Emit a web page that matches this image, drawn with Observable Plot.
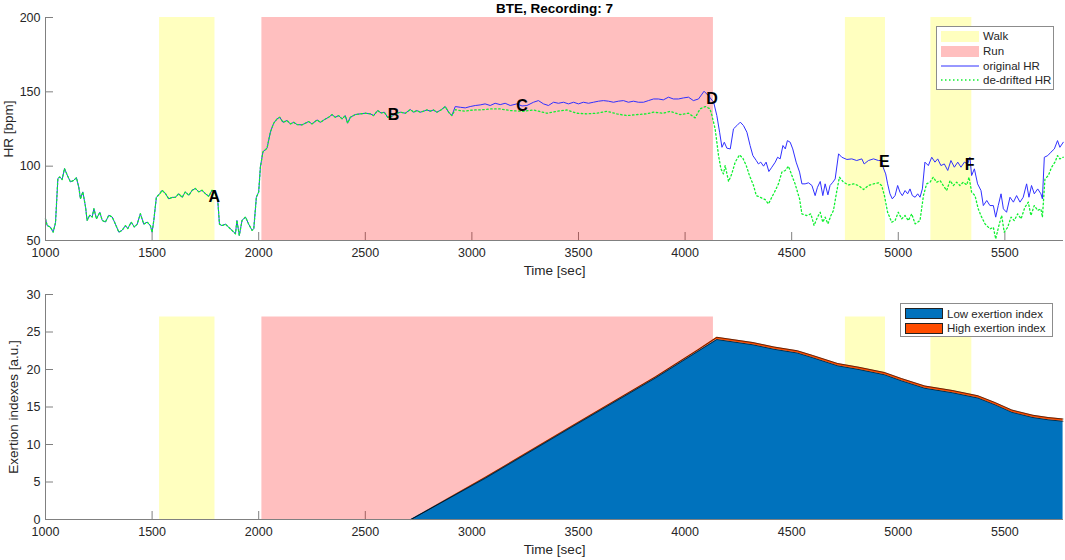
<!DOCTYPE html>
<html>
<head>
<meta charset="utf-8">
<script src="https://cdn.jsdelivr.net/npm/d3@7"></script>
<script src="https://cdn.jsdelivr.net/npm/@observablehq/plot@0.6"></script>
<style>
  html, body { margin: 0; padding: 0; background: #fff; }
  #chart { position: relative; width: 1065px; height: 560px; font-family: "Liberation Sans", Arial, sans-serif; color: #262626; }
  #chart > svg { display: block; }
  .legend { position: absolute; background: #fff; border: 1px solid #8c8c8c; box-sizing: border-box; font-size: 11.5px; }
  .legend .row { position: absolute; left: 0; height: 14px; display: flex; align-items: center; white-space: nowrap; }
  .legend .sw { width: 38px; height: 11px; margin-left: 4px; margin-right: 4px; box-sizing: border-box; flex: none; }
  .legend svg.sw { height: 4px; }
</style>
</head>
<body>
<div id="chart"></div>
<script>
// ---------- data ----------
const title = "BTE, Recording: 7";
const xTicks = [1000, 1500, 2000, 2500, 3000, 3500, 4000, 4500, 5000, 5500];
const hrTicks = [50, 100, 150, 200];
const exTicks = [0, 5, 10, 15, 20, 25, 30];

// activity periods [start, end] in seconds
const walkStart = [1535, 4752, 5153];
const walkEnd   = [1795, 4940, 5345];
const runStart  = [2015];
const runEnd    = [4133];

// HR, part where original and de-drifted coincide
const earlyTime = [1000,1008,1023,1036,1047,1058,1067,1078,1089,1102,1117,1133,1145,1156,1164,1175,1188,1195,1208,1219,1227,1239,1255,1266,1281,1297,1313,1328,1344,1359,1375,1386,1402,1417,1430,1445,1461,1477,1492,1500,1508,1520,1536,1547,1563,1578,1594,1609,1625,1641,1656,1672,1688,1703,1719,1734,1750,1766,1781,1797,1808,1816,1828,1844,1859,1875,1891,1898,1909,1922,1938,1953,1969,1977,1989,2000,2008,2020,2039,2055,2070,2086,2099,2114,2133,2149,2164,2180,2203,2219,2234,2250,2274,2289,2308,2328,2344,2359,2375,2391,2406,2417,2430,2453,2477,2500,2524,2539,2558,2574,2589,2605,2625,2645,2664,2688,2711,2727,2742,2758,2774,2789,2805,2820,2836,2855,2875,2891,2906];
const earlyHR   = [64.6,60,59,55.6,62,91.7,92.8,91,98.4,94,89.4,90.5,92.3,86,78,82.7,72.5,63.5,67,65.8,71.4,64.6,69,63.5,62.4,67,65.8,61,55.6,56.8,60,58,62.4,59,61,68,61,62.4,60,55.6,63.5,79,81.5,83.8,81.5,78,79,79,81.5,79,82.7,80.4,83.8,85,82.7,83.8,81.5,79.7,83.8,81.5,77,61,60,61,59,56.8,54.5,63.5,53.4,63.5,65.8,61,56.8,58,79,82.7,99.5,109.7,112,123,128.8,131.8,132.9,129.5,130.7,128.4,129.5,128,127.8,128.9,130,128.4,131.1,129.5,131.3,132.9,134.7,132.9,134,131.8,134,128.9,132.9,134.7,135.2,135.6,135.2,134,137.4,135.8,136.3,132.9,133.6,135.5,136.3,135.6,138.1,136.3,137.4,136.3,137,137.8,137,137.8,136.3,137.8,140.1,136.3,134];

// original HR, after 2906 s
const origTimeLate = [2922,2946,2969,2992,3016,3039,3062,3086,3109,3133,3156,3180,3211,3235,3258,3289,3312,3336,3359,3383,3406,3430,3453,3477,3500,3523,3547,3570,3594,3617,3641,3664,3687,3711,3734,3758,3781,3805,3828,3852,3875,3898,3922,3945,3969,3992,4016,4039,4063,4089,4109,4134,4149,4162,4173,4184,4196,4212,4227,4243,4259,4274,4290,4305,4318,4334,4344,4355,4368,4380,4393,4407,4423,4434,4446,4459,4470,4480,4493,4505,4521,4537,4548,4563,4579,4595,4610,4621,4634,4646,4657,4670,4680,4693,4704,4720,4735,4759,4782,4805,4829,4840,4860,4884,4907,4923,4930,4941,4950,4961,4972,4985,4997,5008,5019,5032,5044,5055,5066,5079,5091,5102,5113,5125,5141,5157,5172,5185,5200,5216,5232,5247,5263,5279,5294,5310,5325,5336,5344,5357,5372,5388,5399,5415,5430,5446,5457,5469,5482,5493,5508,5524,5540,5555,5571,5586,5602,5613,5625,5638,5654,5669,5676,5685,5701,5716,5732,5747,5758,5774];
const origHRLate   = [140.1,139.6,139.2,140.1,140.8,141.2,141.9,140.8,142.3,141.4,142.3,140.8,141.9,140.5,140.8,143,144.1,141.9,140.8,143,142.3,143,141.9,143,141.9,143,142.3,143,143.7,144.1,143.7,143,143.7,144.1,143,143.7,143,143,144.1,145.2,145.2,144.6,146.4,145.2,145.2,145.9,146.4,144.1,145.2,150.4,147.5,143,134,122.8,112.7,116.1,112.1,111.6,125.1,127.3,129.6,127.3,122.8,113.9,107.1,103.8,101.5,102.7,100,102.7,96.4,99.3,102.7,106,104.9,113.9,111.6,117.2,116.1,111.6,102.7,96,88.1,88.1,88.8,87,80.2,85.8,89.7,80.2,88.1,80.7,87,89.2,91.4,108.3,106,104.5,104.9,103.8,104.9,101.5,103.8,104.9,103.8,103.8,98.8,94.8,88.1,81.4,78,80.2,87,82.5,80.2,83.6,81.4,84.7,80.2,79.1,81.4,79.1,84.7,102.7,100.4,106,102.7,104.9,100.4,101.5,97.1,103.8,99.3,102.7,99.3,102.7,101.5,106,93.7,98.2,88.1,83.6,73.5,76.9,73.5,73.5,65.7,73.5,81.4,71.3,69,79.1,75.8,80.2,75.8,79.1,88.1,79.1,87,81.4,84.7,81.4,78,106,107.1,109.4,111.6,117.2,112.7,116.1];

// de-drifted HR, after 2906 s
const ddTimeLate = [2922,2946,2969,2992,3016,3039,3086,3133,3180,3242,3289,3352,3398,3445,3492,3539,3586,3633,3680,3727,3773,3820,3852,3898,3930,3977,4016,4047,4070,4094,4102,4117,4126,4141,4157,4168,4180,4188,4204,4219,4235,4255,4271,4287,4302,4321,4334,4352,4376,4391,4407,4423,4438,4454,4470,4485,4501,4516,4537,4548,4571,4590,4605,4621,4634,4646,4657,4670,4684,4696,4712,4724,4743,4767,4790,4813,4837,4860,4884,4907,4922,4935,4950,4969,4985,5000,5016,5032,5047,5063,5079,5102,5118,5133,5149,5164,5180,5196,5211,5227,5243,5258,5274,5289,5305,5321,5332,5344,5360,5375,5391,5407,5430,5446,5457,5472,5485,5497,5513,5529,5544,5560,5576,5594,5610,5622,5638,5654,5669,5676,5688,5704,5719,5735,5747,5758,5774];
const ddHRLate   = [138.0,137.4,137.0,137.6,137.8,137.8,138.5,138.5,137.4,136.9,137.8,135.6,136.9,137.8,135.6,135.2,135.6,136.9,135.2,134,134.7,135.2,136.3,135.6,136.9,134.7,135.6,132.5,138.5,140.1,139.7,138.5,134,125.1,107.1,98.2,94.8,100.4,89.7,94.8,102.7,107.6,105.4,100.4,93.7,87,80.2,79.1,77.5,74.6,79.1,83.6,88.1,96,97.1,100,93.7,88.1,78,67.9,66.8,67.9,60.1,65.7,69,62.3,65.7,61.2,66.8,70.2,83.6,92.6,89.2,87.4,88.1,87,84.3,87,88.1,88.8,87,80.2,69,62.3,63.4,69,64.6,66.8,63.4,67.9,61.2,63.4,80.2,88.1,89.2,92.6,89.2,90.3,87,83.6,90.3,87,89.2,87,89.2,87.4,92.6,82.5,80.2,71.3,65.7,61.2,57.8,58.9,51.1,60.1,66.8,55.6,58.9,65.7,63.4,67.9,64.6,72.4,75.8,66.8,73.5,70.2,71.3,65.7,91.4,93.7,99.3,102.7,107.1,104.9,106];

// marker letters
const markName = ["A", "B", "C", "D", "E", "F"];
const markTime = [1792, 2633, 3235, 4126, 4935, 5335];
const markHR   = [79.5, 134.5, 140.8, 145, 102.7, 100.8];

// exertion indexes
const exTime = [1000,2714,3063,3461,3860,4059,4149,4197,4318,4418,4527,4596,4716,4816,4936,5015,5125,5255,5374,5454,5533,5632,5703,5773];
const lowEx  = [0,0,5.5,12.2,18.85,22.4,24.0,23.8,23.3,22.7,22.2,21.6,20.5,20.0,19.3,18.5,17.5,16.9,16.2,15.3,14.3,13.6,13.3,13.1];
const highEx = [0,0,0.12,0.12,0.15,0.2,0.3,0.3,0.3,0.3,0.3,0.3,0.3,0.3,0.3,0.3,0.3,0.3,0.3,0.3,0.3,0.3,0.3,0.3];

// ---------- build tables ----------
const origSeries = [...earlyTime, ...origTimeLate].map((t, i) => ({t, v: [...earlyHR, ...origHRLate][i]}));
const ddSeries = [...earlyTime, ...ddTimeLate].map((t, i) => ({t, v: [...earlyHR, ...ddHRLate][i]}));
const walks = walkStart.map((s, i) => ({s, e: walkEnd[i]}));
const runs = runStart.map((s, i) => ({s, e: runEnd[i]}));
const letterMarks = markName.map((n, i) => ({n, t: markTime[i], v: markHR[i]}));
const ex = exTime.map((t, i) => ({t, low: lowEx[i], top: lowEx[i] + highEx[i]}));

const W = 1065, H = 280;
const axisGray = "#808080";
const textCol = "#262626";
const font = "'Liberation Sans', Arial, sans-serif";
const blue = "#3030ff", green = "#10f030";
const walkFill = "rgb(255,255,0)", runFill = "rgb(255,0,0)";
const lowCol = "#0072bd", highCol = "#ff4d00";
const greenDash = "1.5,2.5";

function panel({yDomain, yTicks, patchTop, marginTop, marginBottom, ylabel, content, ylabelDx, xlabelDy}) {
  const frameH = H - marginTop - marginBottom;
  const frameW = W - 45 - 2;
  return Plot.plot({
    width: W, height: H,
    marginLeft: 45, marginRight: 2, marginTop, marginBottom,
    x: {domain: [1000, 5775]},
    y: {domain: yDomain},
    style: {fontFamily: font, fontSize: "12.5px", color: textCol, background: "#fff", overflow: "visible"},
    marks: [
      Plot.tickX(xTicks, {x: d => d, stroke: axisGray, strokeWidth: 1, insetTop: frameH - 8}),
      Plot.tickY(yTicks, {y: d => d, stroke: axisGray, strokeWidth: 1, insetRight: frameW - 8}),
      Plot.rect(walks, {x1: "s", x2: "e", y1: yDomain[0], y2: patchTop, fill: walkFill, fillOpacity: 0.25}),
      Plot.rect(runs, {x1: "s", x2: "e", y1: yDomain[0], y2: patchTop, fill: runFill, fillOpacity: 0.25}),
      ...content.data,
      Plot.ruleX([1000], {stroke: axisGray, strokeWidth: 1}),
      Plot.ruleY([yDomain[0]], {stroke: axisGray, strokeWidth: 1}),
      Plot.axisX({ticks: xTicks, tickSize: 0, tickPadding: 8, tickFormat: d => String(d), label: null, fill: textCol}),
      Plot.axisY({ticks: yTicks, tickSize: 0, tickPadding: 5, tickFormat: d => String(d), label: null, fill: textCol}),
      Plot.text(["Time [sec]"], {text: d => d, frameAnchor: "bottom", textAnchor: "middle", dy: xlabelDy, fontSize: 13.5, fill: textCol}),
      Plot.text([ylabel], {text: d => d, frameAnchor: "left", textAnchor: "middle", dx: ylabelDx, rotate: -90, fontSize: 13.5, fill: textCol}),
      ...content.topMarks
    ]
  });
}

const topPanel = panel({
  yDomain: [50, 200], yTicks: hrTicks, patchTop: 200, marginTop: 17, marginBottom: 40,
  ylabel: "HR [bpm]", ylabelDx: -37, xlabelDy: 34,
  content: {
    data: [
      Plot.lineY(origSeries, {x: "t", y: "v", stroke: blue, strokeWidth: 1}),
      Plot.lineY(ddSeries, {x: "t", y: "v", stroke: green, strokeWidth: 1.3, strokeDasharray: greenDash})
    ],
    topMarks: [
      Plot.text(letterMarks, {x: "t", y: "v", text: "n", fontWeight: "bold", fontSize: 16, fill: "#000"}),
      Plot.text([title], {text: d => d, frameAnchor: "top", textAnchor: "middle", lineAnchor: "middle", dy: -9, fontWeight: "bold", fontSize: 13.5, fill: "#000"})
    ]
  }
});

const bottomPanel = panel({
  yDomain: [0, 30], yTicks: exTicks, patchTop: 27, marginTop: 14, marginBottom: 41,
  ylabel: "Exertion indexes [a.u.]", ylabelDx: -32, xlabelDy: 34,
  content: {
    data: [
      Plot.areaY(ex, {x: "t", y1: 0, y2: "low", fill: lowCol}),
      Plot.areaY(ex, {x: "t", y1: "low", y2: "top", fill: highCol}),
      Plot.lineY(ex, {x: "t", y: "low", stroke: "#000", strokeWidth: 0.6}),
      Plot.lineY(ex, {x: "t", y: "top", stroke: "#000", strokeWidth: 0.6})
    ],
    topMarks: []
  }
});

const chart = document.getElementById("chart");
chart.append(topPanel, bottomPanel);

// legends
const SVGNS = "http://www.w3.org/2000/svg";
function legend(left, topPx, width, height, rows) {
  const box = document.createElement("div");
  box.className = "legend";
  Object.assign(box.style, {left: left + "px", top: topPx + "px", width: width + "px", height: height + "px"});
  for (const r of rows) {
    const row = document.createElement("div");
    row.className = "row";
    row.style.top = (r.y - topPx - 7 - 1) + "px";
    let sw;
    if (r.type === "patch") {
      sw = document.createElement("div");
      sw.className = "sw";
      sw.style.background = r.color;
      if (r.border) sw.style.border = "1px solid " + r.border;
    } else {
      sw = document.createElementNS(SVGNS, "svg");
      sw.setAttribute("class", "sw");
      sw.setAttribute("width", "38");
      sw.setAttribute("height", "4");
      const ln = document.createElementNS(SVGNS, "line");
      ln.setAttribute("x1", "0"); ln.setAttribute("x2", "38");
      ln.setAttribute("y1", "2"); ln.setAttribute("y2", "2");
      ln.setAttribute("stroke", r.color);
      ln.setAttribute("stroke-width", r.dash ? "1.4" : "1");
      if (r.dash) ln.setAttribute("stroke-dasharray", greenDash);
      sw.append(ln);
    }
    const label = document.createElement("span");
    label.textContent = r.label;
    row.append(sw, label);
    box.append(row);
  }
  chart.append(box);
}

legend(936, 26, 118, 64, [
  {type: "patch", color: "#ffffbf", label: "Walk", y: 36},
  {type: "patch", color: "#ffbfbf", label: "Run", y: 51},
  {type: "line", color: blue, label: "original HR", y: 65.5},
  {type: "line", color: green, dash: true, label: "de-drifted HR", y: 80}
]);

legend(900, 303, 153, 34, [
  {type: "patch", color: lowCol, border: "#222", label: "Low exertion index", y: 313.5},
  {type: "patch", color: highCol, border: "#222", label: "High exertion index", y: 328}
]);
</script>
</body>
</html>
